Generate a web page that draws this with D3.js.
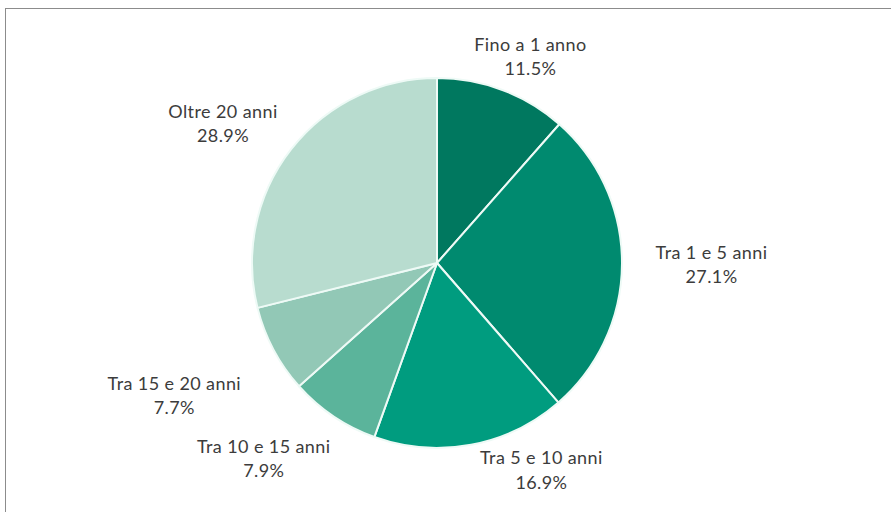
<!DOCTYPE html>
<html><head><meta charset="utf-8">
<script src="https://cdn.jsdelivr.net/npm/d3@7"></script>
<style>html,body{margin:0;padding:0;background:#fff;}svg{display:block;}</style>
</head><body>
<svg id="chart" width="891" height="512"></svg>
<script>
const categories = ["Fino a 1 anno","Tra 1 e 5 anni","Tra 5 e 10 anni","Tra 10 e 15 anni","Tra 15 e 20 anni","Oltre 20 anni"];
const values = [11.5, 27.1, 16.9, 7.9, 7.7, 28.9];
const colors = ["#00785f","#008a6f","#009c7f","#5bb49b","#92c8b6","#b8dccf"];
// label placement (polar, relative to pie centre): angle in degrees from 12 o'clock, radius in px
const labelAngles = [24.3, 90.3, 153.2, 221.6, 243.3, 303.1];
const labelRadii = [227, 274.5, 231.5, 261, 294, 255.5];

const W = 891, H = 512;
const cx = 437, cy = 263, R = 185;
const svg = d3.select("#chart");

svg.append("rect").attr("x",5.5).attr("y",8.5).attr("width",W).attr("height",H)
  .attr("fill","#fff").attr("stroke","#8c8c8c").attr("stroke-width",1);

const pie = d3.pie().value(d=>d).sort(null);
const arcs = pie(values);
const arc = d3.arc().innerRadius(0).outerRadius(R);
const g = svg.append("g").attr("transform",`translate(${cx},${cy})`);
g.selectAll("path").data(arcs).join("path")
  .attr("d",arc).attr("fill",(d,i)=>colors[i])
  .attr("stroke","#eefaf6").attr("stroke-width",2).attr("stroke-linejoin","round");

const lg = g.selectAll("text").data(arcs).join("text")
  .attr("text-anchor","middle")
  .attr("font-family","Lato, 'Open Sans', sans-serif")
  .attr("font-size",18).attr("letter-spacing",0.4).attr("fill","#3c3c3c")
  .attr("transform",(d,i)=>{
    const a = labelAngles[i]*Math.PI/180;
    return `translate(${labelRadii[i]*Math.sin(a)},${-labelRadii[i]*Math.cos(a)})`;
  });
lg.append("tspan").attr("x",0).attr("dy","-0.3em").text((d,i)=>categories[i]);
lg.append("tspan").attr("x",0).attr("dy","1.35em").text(d=>d.data.toFixed(1)+"%");
</script>
</body></html>
